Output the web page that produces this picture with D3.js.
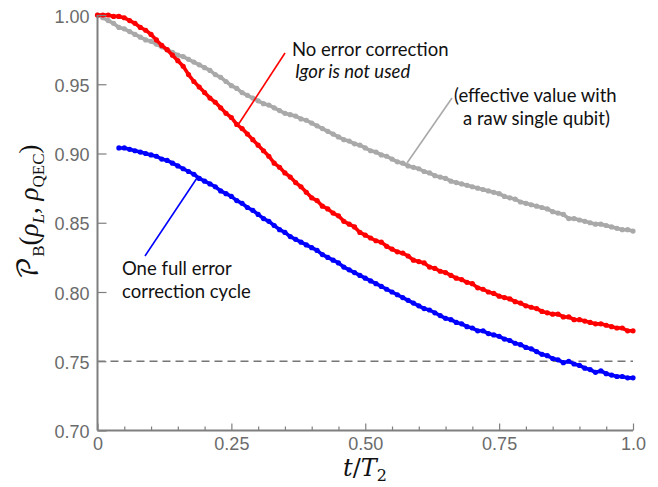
<!DOCTYPE html>
<html><head><meta charset="utf-8">
<script src="https://cdn.jsdelivr.net/npm/d3@7"></script>
<style>
html,body{margin:0;padding:0;background:#fff;}
svg{display:block;}
.tl{font-family:'Liberation Sans', Arial, Helvetica, sans-serif;}
</style></head>
<body>
<svg id="chart" width="658" height="487"></svg>
<script>
// ---- data ----
const tStep = 0.01;
const redStart = 0.00;
const redValues = [1.000,1.000,1.000,0.999,0.999,0.998,0.996,0.994,0.991,0.989,
0.986,0.982,0.978,0.975,0.971,0.967,0.963,0.957,0.952,0.948,
0.944,0.940,0.937,0.933,0.929,0.926,0.921,0.918,0.914,0.910,
0.906,0.902,0.898,0.893,0.890,0.886,0.883,0.879,0.876,0.872,
0.868,0.866,0.862,0.860,0.857,0.855,0.851,0.849,0.847,0.843,
0.841,0.839,0.837,0.836,0.833,0.831,0.829,0.828,0.826,0.823,
0.822,0.821,0.818,0.817,0.815,0.814,0.812,0.810,0.809,0.807,
0.806,0.803,0.802,0.800,0.799,0.797,0.796,0.795,0.793,0.792,
0.790,0.789,0.788,0.786,0.785,0.784,0.784,0.782,0.782,0.780,
0.780,0.779,0.778,0.777,0.777,0.776,0.775,0.774,0.774,0.772,0.772];
const grayStart = 0.00;
const grayValues = [1.000,0.998,0.996,0.994,0.991,0.990,0.988,0.986,0.984,0.982,
0.981,0.979,0.977,0.975,0.973,0.971,0.970,0.968,0.966,0.964,
0.962,0.960,0.957,0.955,0.952,0.949,0.947,0.944,0.942,0.940,
0.938,0.936,0.935,0.933,0.931,0.929,0.928,0.927,0.925,0.924,
0.922,0.920,0.918,0.916,0.914,0.912,0.910,0.909,0.907,0.906,
0.904,0.902,0.901,0.899,0.898,0.896,0.894,0.893,0.891,0.890,
0.889,0.887,0.886,0.884,0.883,0.882,0.880,0.879,0.878,0.877,
0.876,0.875,0.874,0.873,0.872,0.871,0.869,0.868,0.867,0.865,
0.864,0.863,0.862,0.861,0.860,0.858,0.857,0.856,0.853,0.853,
0.852,0.851,0.850,0.849,0.849,0.848,0.847,0.846,0.845,0.845,0.844];
const blueStart = 0.04;
const blueValues = [0.904,0.904,0.903,0.902,0.901,0.900,0.899,0.898,0.896,0.895,
0.893,0.891,0.889,0.887,0.885,0.882,0.880,0.878,0.876,0.873,
0.871,0.869,0.866,0.864,0.861,0.859,0.856,0.853,0.851,0.848,
0.845,0.843,0.840,0.838,0.836,0.834,0.832,0.830,0.827,0.825,
0.823,0.821,0.818,0.816,0.814,0.812,0.810,0.808,0.806,0.804,
0.802,0.800,0.798,0.796,0.794,0.792,0.790,0.788,0.787,0.785,
0.783,0.781,0.780,0.778,0.777,0.775,0.774,0.772,0.772,0.770,
0.769,0.768,0.766,0.765,0.763,0.762,0.760,0.759,0.757,0.755,
0.754,0.752,0.751,0.749,0.750,0.748,0.747,0.745,0.744,0.742,
0.743,0.741,0.740,0.739,0.739,0.738,0.738];
const xTickLabels = ["0","0.25","0.50","0.75","1.0"];
const xMajorTicks = [0,0.25,0.5,0.75,1.0];
const xMinorTicks = [0.05,0.1,0.15,0.2,0.3,0.35,0.4,0.45,0.55,0.6,0.65,0.7,0.8,0.85,0.9,0.95];
const yTicks = [0.70,0.75,0.80,0.85,0.90,0.95,1.00];
const yTickLabels = ["0.70","0.75","0.80","0.85","0.90","0.95","1.00"];
const referenceLevel = 0.75;

// ---- layout ----
const svg = d3.select("#chart");
const x = d3.scaleLinear().domain([0,1]).range([97.5,633]);
const y = d3.scaleLinear().domain([0.7,1.0]).range([430.5,15]);
const axisColor = "#7f7f7f";
const labelColor = "#6b6b6b";

function toPoints(start, vals){ return vals.map((v,i)=>({t:start+i*tStep, v:v})); }
const series = [
  {name:"gray", color:"#a9a9a9", pts:toPoints(grayStart, grayValues)},
  {name:"red", color:"#ff0000", pts:toPoints(redStart, redValues)},
  {name:"blue", color:"#0000ff", pts:toPoints(blueStart, blueValues)}
];

svg.append("line")
  .attr("x1",x(0)).attr("x2",x(1)).attr("y1",y(referenceLevel)).attr("y2",y(referenceLevel))
  .attr("stroke","#757575").attr("stroke-width",1.6).attr("stroke-dasharray","8,5");

const line = d3.line().x(d=>x(d.t)).y(d=>y(d.v));
series.forEach(s=>{
  const g = svg.append("g");
  g.append("path").datum(s.pts).attr("d",line).attr("fill","none")
    .attr("stroke",s.color).attr("stroke-width",3.6).attr("stroke-linejoin","round");
  g.selectAll("circle").data(s.pts).join("circle")
    .attr("cx",d=>x(d.t)).attr("cy",d=>y(d.v)).attr("r",2.6).attr("fill",s.color);
});

// axes
const gx = svg.append("g").attr("transform",`translate(0,${y(0.7)})`)
  .call(d3.axisBottom(x).tickValues(xMajorTicks).tickSize(-7)
    .tickFormat((d,i)=>xTickLabels[i]).tickPadding(7));
gx.select(".domain").remove();
gx.attr("font-family",null);
gx.selectAll(".tick line").attr("stroke",axisColor).attr("stroke-width",1.2);
gx.selectAll(".tick text").attr("class","tl").attr("fill",labelColor).attr("font-size",18);
const gxMinor = svg.append("g").attr("transform",`translate(0,${y(0.7)})`)
  .call(d3.axisBottom(x).tickValues(xMinorTicks).tickSize(-4).tickFormat(""));
gxMinor.select(".domain").remove();
gxMinor.selectAll(".tick line").attr("stroke",axisColor).attr("stroke-width",1.2);

const gy = svg.append("g").attr("transform",`translate(${x(0)},0)`)
  .call(d3.axisLeft(y).tickValues(yTicks).tickSize(-9)
    .tickFormat((d,i)=>yTickLabels[i]).tickPadding(8));
gy.select(".domain").remove();
gy.attr("font-family",null);
gy.selectAll(".tick line").attr("stroke",axisColor).attr("stroke-width",1.2);
gy.selectAll(".tick text").attr("class","tl").attr("fill",labelColor).attr("font-size",18)
  .attr("dy","0.4em");

svg.append("line").attr("x1",x(0)).attr("x2",x(0)).attr("y1",y(1.0)).attr("y2",y(0.7))
  .attr("stroke",axisColor).attr("stroke-width",2);
svg.append("line").attr("x1",x(0)).attr("x2",x(1)).attr("y1",y(0.7)).attr("y2",y(0.7))
  .attr("stroke",axisColor).attr("stroke-width",2);

// axis titles
const xt = svg.append("text").attr("x",365).attr("y",476).attr("text-anchor","middle")
  .attr("font-family","'DejaVu Serif','Liberation Serif',serif").attr("font-size",24).attr("fill","#111");
xt.append("tspan").attr("font-style","italic").text("t");
xt.append("tspan").text("/");
xt.append("tspan").attr("font-style","italic").text("T");
xt.append("tspan").attr("font-size",16).attr("dy",5).text("2");

const yt = svg.append("text").attr("transform","translate(38,212) rotate(-90)").attr("text-anchor","middle")
  .attr("font-family","'Liberation Serif','DejaVu Serif',serif").attr("font-size",27).attr("fill","#111");
yt.append("tspan").attr("font-family","'DejaVu Math TeX Gyre','DejaVu Serif',serif").text("𝒫");
yt.append("tspan").attr("font-size",17).attr("dy",6).text("B");
yt.append("tspan").attr("dy",-6).text("(");
yt.append("tspan").attr("font-style","italic").text("ρ");
yt.append("tspan").attr("font-size",17).attr("font-style","italic").attr("dy",6).text("L");
yt.append("tspan").attr("dy",-6).text(", ");
yt.append("tspan").attr("font-style","italic").text("ρ");
yt.append("tspan").attr("font-size",17).attr("dy",6).text("QEC");
yt.append("tspan").attr("dy",-6).text(")");

// annotations
const annFont = "Lato, 'Open Sans', sans-serif";
function leader(x1,y1,x2,y2,c){
  svg.append("line").attr("x1",x1).attr("y1",y1).attr("x2",x2).attr("y2",y2)
    .attr("stroke",c).attr("stroke-width",1.6);
}
leader(285,53,238,125,"#ff0000");
leader(452,98,407,163,"#a9a9a9");
leader(145,256,197,178,"#0000ff");

function ann(txt,xx,yy,italic){
  svg.append("text").attr("x",xx).attr("y",yy).attr("font-family",annFont).attr("font-size",18.5)
    .attr("fill","#111").attr("font-style",italic?"italic":"normal").text(txt);
}
ann("No error correction",292,56,false);
ann("Igor  is not used",295,78,true);
ann("(effective value with",454,102,false);
ann("a raw single qubit)",463,125,false);
ann("One full error",122,275,false);
ann("correction cycle",122,298,false);
</script>
</body></html>
